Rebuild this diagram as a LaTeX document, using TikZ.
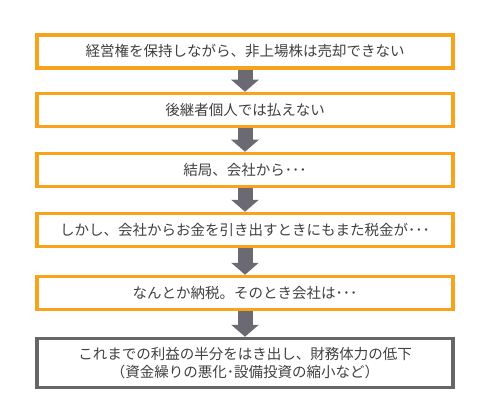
\documentclass[tikz,border=0pt]{standalone}
\usepackage{fontspec}
\usepackage{tikz}
\usetikzlibrary{arrows.meta}
\setmainfont{Noto Sans CJK JP}

\definecolor{boxorange}{HTML}{F9A21B}
\definecolor{boxgray}{HTML}{666666}
\definecolor{arrowgray}{HTML}{6B6971}
\definecolor{textgray}{HTML}{404040}

\tikzset{
	stepbox/.style = {draw = boxorange, line width = 3.5pt, minimum width = 416pt, minimum height = 33pt, inner sep = 0pt, text = textgray, font = \fontsize{14.5pt}{18pt}\selectfont, align = center},
	lastbox/.style = {stepbox, draw = boxgray, minimum height = 49pt},
	downarrow/.style = {draw = arrowgray, line width = 15pt, -{Triangle[width = 27pt, length = 12pt]}}
}

\begin{document}
\begin{tikzpicture}[x = 1pt, y = -1pt]
		\useasboundingbox (0,0) rectangle (495,417);
		\node[stepbox] (Hold) at (245,51.5) {経営権を保持しながら、非上場株は売却できない};
		\node[stepbox] (Heir) at (245,110) {後継者個人では払えない};
		\node[stepbox] (Firm) at (245,170) {結局、会社から･･･};
		\node[stepbox] (Tax) at (245,230) {しかし、会社からお金を引き出すときにもまた税金が･･･};
		\node[stepbox] (Paid) at (245,293) {なんとか納税。そのとき会社は･･･};
		\node[lastbox] (Loss) at (245,363) {これまでの利益の半分をはき出し、財務体力の低下\\（資金繰りの悪化･設備投資の縮小など）};
		\draw[downarrow] (Hold) -- (Heir);
		\draw[downarrow] (Heir) -- (Firm);
		\draw[downarrow] (Firm) -- (Tax);
		\draw[downarrow] (Tax) -- (Paid);
		\draw[downarrow] (Paid) -- (Loss);
	\end{tikzpicture}
\end{document}
